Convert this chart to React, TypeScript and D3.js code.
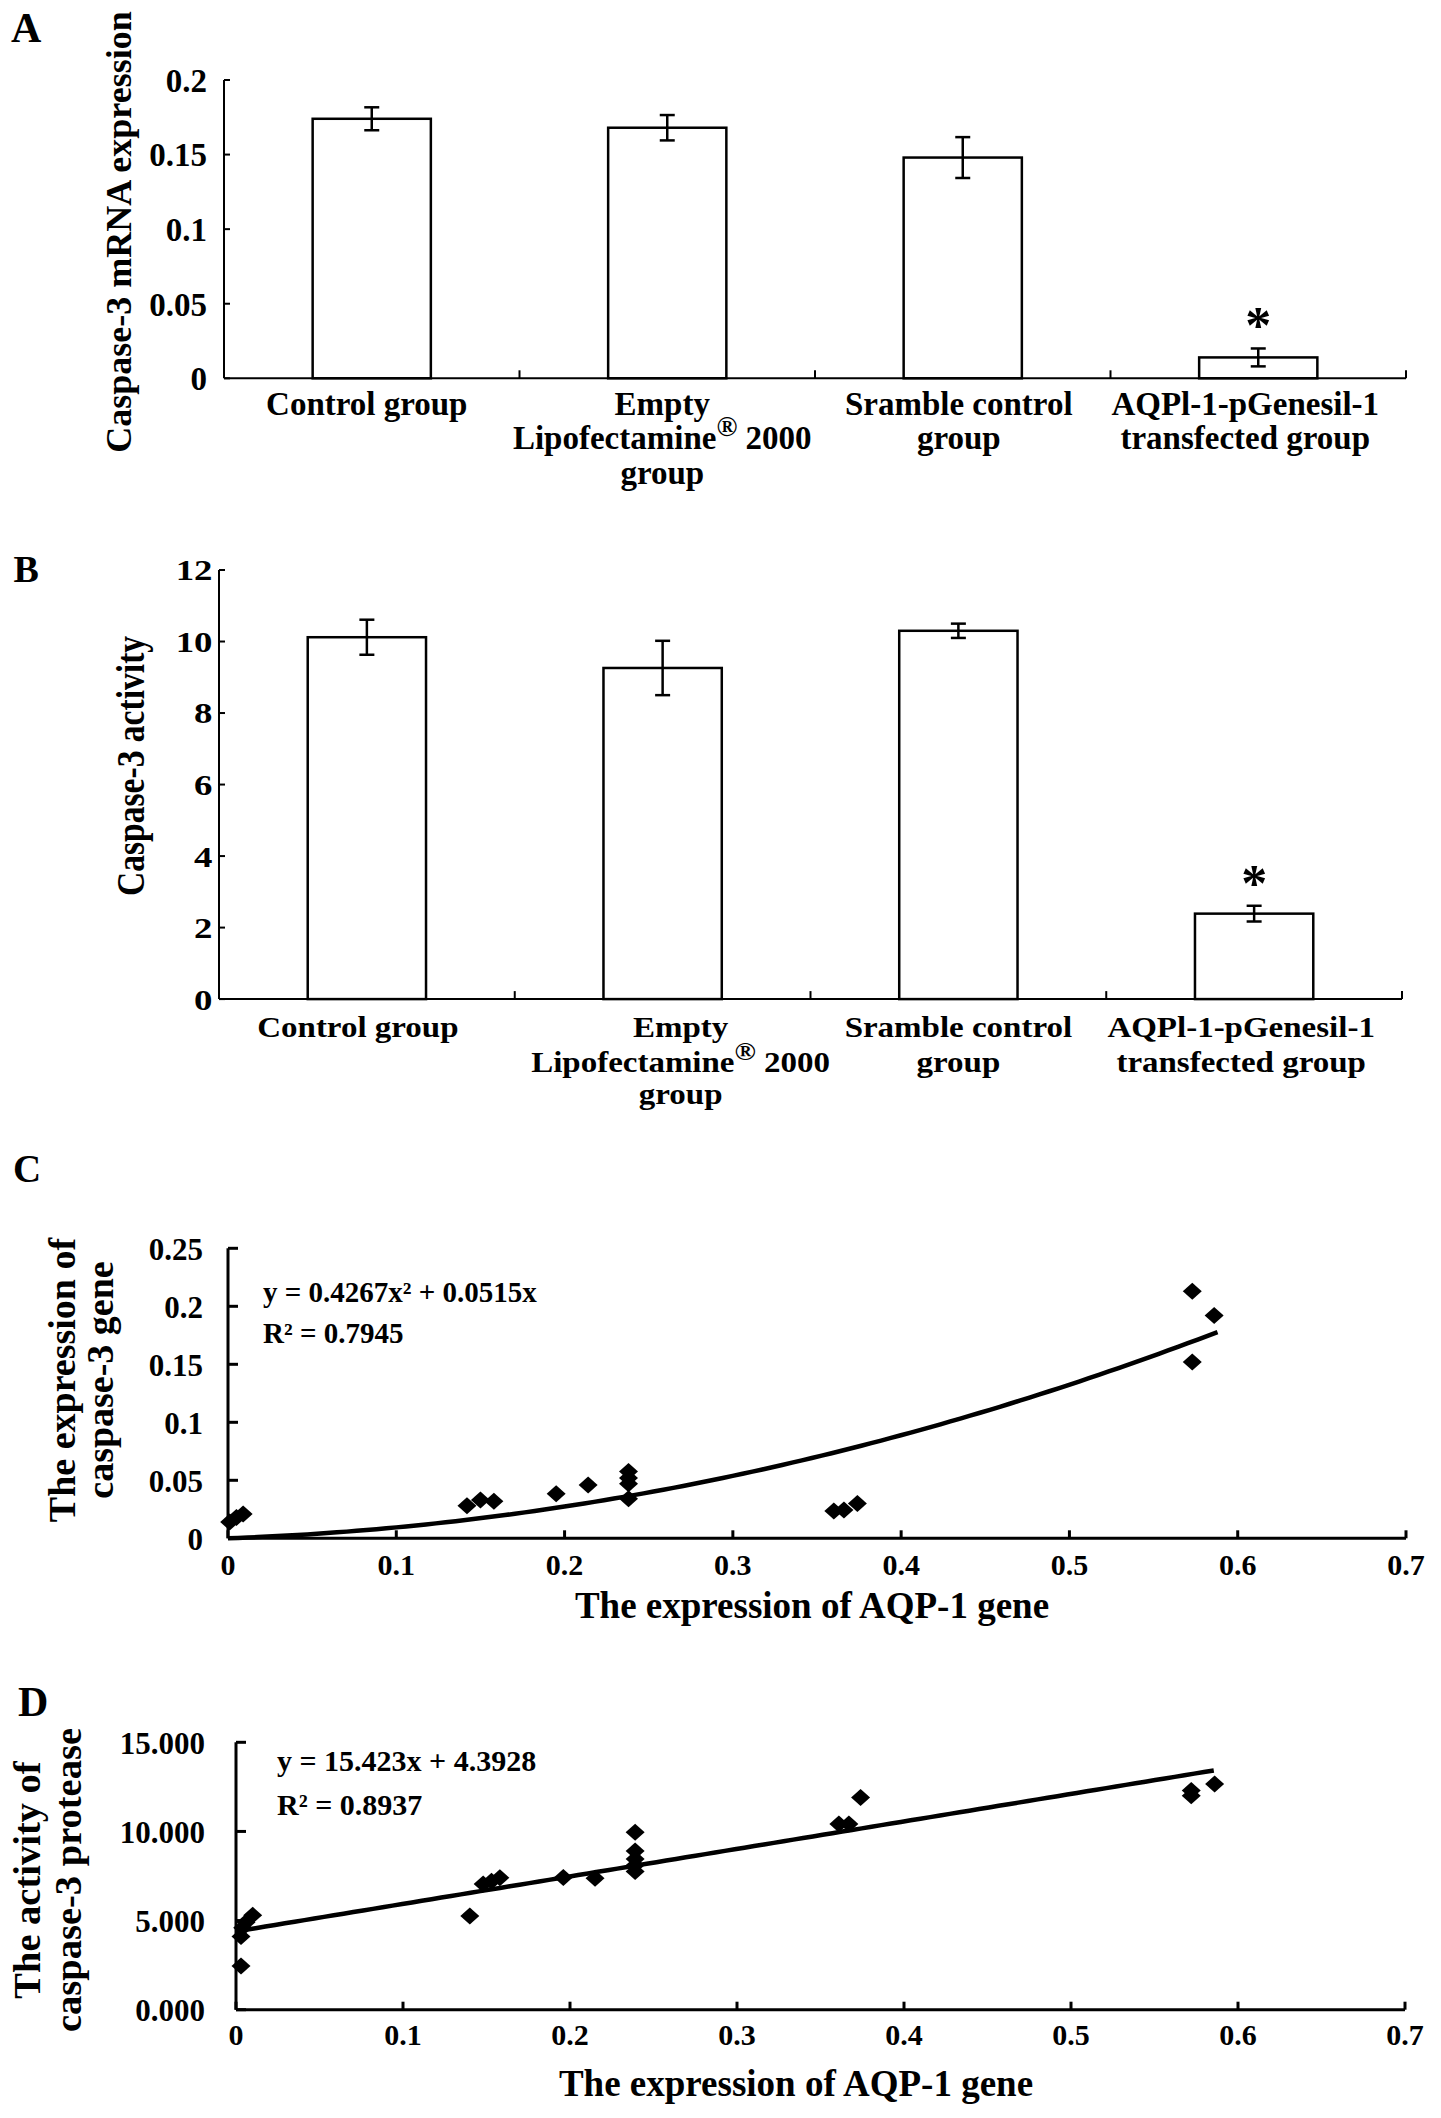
import { scaleBand, scaleLinear, line, range } from "d3";

const SERIF = '"Liberation Serif", "Times New Roman", serif';

// bar panels A and B
const groupLines = [
  ["Control group"],
  ["Empty", "Lipofectamine® 2000", "group"],
  ["Sramble control", "group"],
  ["AQPl-1-pGenesil-1", "transfected group"],
];
const groups = groupLines.map((l) => l.join(" "));
const mrnaMean = [0.174, 0.168, 0.148, 0.014];
const mrnaErr = [0.0077, 0.0085, 0.0137, 0.006];
const activityMean = [10.12, 9.26, 10.3, 2.39];
const activityErr = [0.49, 0.76, 0.2, 0.22];
const significant = [false, false, false, true];
const mrnaTicks = [0, 0.05, 0.1, 0.15, 0.2];
const mrnaTickLabels = ["0", "0.05", "0.1", "0.15", "0.2"];
const activityTicks = [0, 2, 4, 6, 8, 10, 12];
const activityTickLabels = ["0", "2", "4", "6", "8", "10", "12"];

// scatter panels C and D
const aqpTicks = [0, 0.1, 0.2, 0.3, 0.4, 0.5, 0.6, 0.7];
const aqpTickLabels = ["0", "0.1", "0.2", "0.3", "0.4", "0.5", "0.6", "0.7"];
const exprTicks = [0, 0.05, 0.1, 0.15, 0.2, 0.25];
const exprTickLabels = ["0", "0.05", "0.1", "0.15", "0.2", "0.25"];
const protTicks = [0, 5, 10, 15];
const protTickLabels = ["0.000", "5.000", "10.000", "15.000"];

const exprX = [0.001, 0.005, 0.009, 0.142, 0.15, 0.158, 0.195, 0.214, 0.238, 0.238, 0.238, 0.238, 0.36, 0.366, 0.374, 0.573, 0.586, 0.573];
const exprY = [0.014, 0.018, 0.021, 0.028, 0.033, 0.032, 0.0385, 0.046, 0.0575, 0.052, 0.047, 0.034, 0.0236, 0.0244, 0.03, 0.213, 0.192, 0.152];
const protX = [0.003, 0.003, 0.004, 0.006, 0.01, 0.14, 0.148, 0.153, 0.158, 0.196, 0.215, 0.239, 0.239, 0.239, 0.239, 0.239, 0.361, 0.367, 0.374, 0.572, 0.572, 0.586];
const protY = [2.45, 4.1, 4.6, 4.9, 5.3, 5.25, 7.05, 7.2, 7.4, 7.42, 7.37, 9.95, 8.9, 8.45, 8.1, 7.75, 10.42, 10.42, 11.9, 12.29, 12.0, 12.66];

// fitted curves printed on the figure
const quadFit = { a: 0.4267, b: 0.0515, xMax: 0.588 };
const linFit = { slope: 15.423, icpt: 4.3928, xMax: 0.5855 };

function Txt({ x, y, size, sx = 1, rot = false, anchor = "middle", dy, children }: any) {
  const tf = `translate(${x},${y})${rot ? " rotate(-90)" : ""}${sx !== 1 ? ` scale(${sx},1)` : ""}`;
  return (
    <text transform={tf} fontSize={size} textAnchor={anchor} dy={dy}>
      {children}
    </text>
  );
}

function lineText(s: string, size: number) {
  if (!s.includes("®")) return s;
  const [a, b] = s.split("®");
  const sup = Math.round(size * 0.85);
  return (
    <>
      {a}
      <tspan fontSize={sup} dy={-size * 0.4}>
        ®
      </tspan>
      <tspan dy={size * 0.4}>{b}</tspan>
    </>
  );
}

function diamond(rx: number, ry: number) {
  return `M0,${-ry}L${rx},0L0,${ry}L${-rx},0Z`;
}

function BarPanel({ letter, letterPos, title, titleCfg, means, errs, xRange, yDomain, yRange, ticks, tickLabels, tickCfg, labelCfg }: any) {
  const x = scaleBand<string>().domain(groups).range(xRange).padding(0);
  const y = scaleLinear().domain(yDomain).range(yRange);
  const bw = x.bandwidth() * 0.4;
  const y0 = y(0);
  const ax = xRange[0];
  return (
    <g>
      <Txt x={letterPos[0]} y={letterPos[1]} size={letterPos[2]} anchor="start">
        {letter}
      </Txt>
      <Txt x={titleCfg.x} y={titleCfg.y} size={titleCfg.size} sx={titleCfg.sx} rot>
        {title}
      </Txt>
      {/* bars */}
      {groups.map((g, i) => {
        const cx = (x(g) ?? 0) + x.bandwidth() / 2;
        const top = y(means[i]);
        const eTop = y(means[i] + errs[i]);
        const eBot = y(means[i] - errs[i]);
        return (
          <g key={g}>
            <rect x={cx - bw / 2} y={top} width={bw} height={y0 - top} fill="#fff" stroke="#000" strokeWidth={2.5} />
            <g stroke="#000" strokeWidth={2.5}>
              <line x1={cx} x2={cx} y1={eTop} y2={eBot} />
              <line x1={cx - 7.5} x2={cx + 7.5} y1={eTop} y2={eTop} />
              <line x1={cx - 7.5} x2={cx + 7.5} y1={eBot} y2={eBot} />
            </g>
            {significant[i] && (
              <Txt x={cx} y={eTop - 5} size={52}>
                *
              </Txt>
            )}
          </g>
        );
      })}
      {/* axes */}
      <g stroke="#000" strokeWidth={2}>
        <line x1={ax} x2={ax} y1={y0} y2={yRange[1]} />
        <line x1={ax} x2={xRange[1]} y1={y0} y2={y0} />
        {ticks.map((t: number) => (
          <line key={t} x1={ax} x2={ax + 6} y1={y(t)} y2={y(t)} />
        ))}
        {groups.map((g) => {
          const bx = (x(g) ?? 0) + x.bandwidth();
          return <line key={g} x1={bx} x2={bx} y1={y0} y2={y0 - 8} />;
        })}
      </g>
      {ticks.map((t: number, i: number) => (
        <Txt key={t} x={ax - tickCfg.pad} y={y(t)} size={tickCfg.size} sx={tickCfg.sx} anchor="end" dy="0.36em">
          {tickLabels[i]}
        </Txt>
      ))}
      {groupLines.map((lines, i) => {
        const cx = (x(groups[i]) ?? 0) + x.bandwidth() / 2 + labelCfg.dx[i];
        return lines.map((s, j) => (
          <Txt key={`${i}-${j}`} x={cx} y={y0 + labelCfg.offsets[j]} size={labelCfg.size} sx={labelCfg.sx}>
            {lineText(s, labelCfg.size)}
          </Txt>
        ));
      })}
    </g>
  );
}

function ScatterPanel({ letter, letterPos, titleLines, titleCfg, xs, ys, xRange, yDomain, yRange, yTicks, yTickLabels, yTickCfg, xTickBase, fit, eq, eqCfg, xTitleCfg }: any) {
  const x = scaleLinear().domain([0, 0.7]).range(xRange);
  const y = scaleLinear().domain(yDomain).range(yRange);
  const y0 = y(0);
  const ax = xRange[0];
  const fitPath = line<number>()
    .x((v) => x(v))
    .y((v) => y(fit.f(v)))(range(0, 101).map((k) => (k / 100) * fit.xMax));
  return (
    <g>
      <Txt x={letterPos[0]} y={letterPos[1]} size={letterPos[2]} anchor="start">
        {letter}
      </Txt>
      {titleLines.map((s: string, j: number) => (
        <Txt key={s} x={titleCfg.xs[j]} y={titleCfg.y} size={titleCfg.size} rot>
          {s}
        </Txt>
      ))}
      <g stroke="#000" strokeWidth={3}>
        <line x1={ax} x2={ax} y1={y0} y2={yRange[1]} />
        <line x1={ax} x2={xRange[1]} y1={y0} y2={y0} />
        {yTicks.map((t: number) => (
          <line key={t} x1={ax} x2={ax + 10} y1={y(t)} y2={y(t)} />
        ))}
        {aqpTicks.map((t) => (
          <line key={t} x1={x(t)} x2={x(t)} y1={y0} y2={y0 - 8} />
        ))}
      </g>
      {yTicks.map((t: number, i: number) => (
        <Txt key={t} x={ax - yTickCfg.pad} y={y(t)} size={yTickCfg.size} anchor="end" dy="0.37em">
          {yTickLabels[i]}
        </Txt>
      ))}
      {aqpTicks.map((t, i) => (
        <Txt key={t} x={x(t)} y={y0 + xTickBase} size={30}>
          {aqpTickLabels[i]}
        </Txt>
      ))}
      <path d={fitPath ?? ""} fill="none" stroke="#000" strokeWidth={4.5} />
      {xs.map((v: number, i: number) => (
        <path key={i} d={diamond(9.5, 8.5)} transform={`translate(${x(v)},${y(ys[i])})`} fill="#000" />
      ))}
      <Txt x={eqCfg.x} y={eqCfg.y1} size={eqCfg.size} anchor="start">
        {eq[0]}
      </Txt>
      <Txt x={eqCfg.x} y={eqCfg.y2} size={eqCfg.size} anchor="start">
        {eq[1]}
      </Txt>
      <Txt x={xTitleCfg.x} y={xTitleCfg.y} size={xTitleCfg.size}>
        The expression of AQP-1 gene
      </Txt>
    </g>
  );
}

export default function App() {
  return (
    <svg
      width={1441}
      height={2118}
      style={{ position: "absolute", left: 0, top: 0, background: "#fff" }}
      fontFamily={SERIF}
      fontWeight="bold"
    >
      <BarPanel
        letter="A"
        letterPos={[11, 41.5, 42]}
        title="Caspase-3 mRNA expression"
        titleCfg={{ x: 131, y: 232, size: 36, sx: 1 }}
        means={mrnaMean}
        errs={mrnaErr}
        xRange={[224, 1406]}
        yDomain={[0, 0.2]}
        yRange={[378.3, 80]}
        ticks={mrnaTicks}
        tickLabels={mrnaTickLabels}
        tickCfg={{ pad: 17, size: 33, sx: 1 }}
        labelCfg={{ size: 33, sx: 1, offsets: [37, 71, 106], dx: [-5, -5, -4, -13] }}
      />
      <BarPanel
        letter="B"
        letterPos={[13.5, 582, 38]}
        title="Caspase-3  activity"
        titleCfg={{ x: 144, y: 766, size: 40, sx: 0.84 }}
        means={activityMean}
        errs={activityErr}
        xRange={[219, 1402]}
        yDomain={[0, 12]}
        yRange={[999.1, 570]}
        ticks={activityTicks}
        tickLabels={activityTickLabels}
        tickCfg={{ pad: 6.5, size: 29, sx: 1.27 }}
        labelCfg={{ size: 30, sx: 1.1, offsets: [38, 73, 105], dx: [-9, 18, 0, -13] }}
      />
      <ScatterPanel
        letter="C"
        letterPos={[13, 1182, 39]}
        titleLines={["The expression of", "caspase-3 gene"]}
        titleCfg={{ xs: [75, 112.5], y: 1380, size: 38 }}
        xs={exprX}
        ys={exprY}
        xRange={[228, 1406]}
        yDomain={[0, 0.25]}
        yRange={[1538.3, 1248.3]}
        yTicks={exprTicks}
        yTickLabels={exprTickLabels}
        yTickCfg={{ pad: 25, size: 31 }}
        xTickBase={37}
        fit={{ xMax: quadFit.xMax, f: (v: number) => quadFit.a * v * v + quadFit.b * v }}
        eq={[`y = ${quadFit.a}x² + ${quadFit.b}x`, "R² = 0.7945"]}
        eqCfg={{ x: 263, y1: 1301.7, y2: 1342.7, size: 29 }}
        xTitleCfg={{ x: 812, y: 1618, size: 37 }}
      />
      <ScatterPanel
        letter="D"
        letterPos={[18, 1716, 42]}
        titleLines={["The activity of", "caspase-3 protease"]}
        titleCfg={{ xs: [39.5, 81], y: 1880, size: 38.5 }}
        xs={protX}
        ys={protY}
        xRange={[236, 1405]}
        yDomain={[0, 15]}
        yRange={[2009.7, 1742.3]}
        yTicks={protTicks}
        yTickLabels={protTickLabels}
        yTickCfg={{ pad: 31, size: 31 }}
        xTickBase={35.5}
        fit={{ xMax: linFit.xMax, f: (v: number) => linFit.slope * v + linFit.icpt }}
        eq={[`y = ${linFit.slope}x + ${linFit.icpt}`, "R² = 0.8937"]}
        eqCfg={{ x: 277, y1: 1771, y2: 1815, size: 30 }}
        xTitleCfg={{ x: 796, y: 2096, size: 37 }}
      />
    </svg>
  );
}
